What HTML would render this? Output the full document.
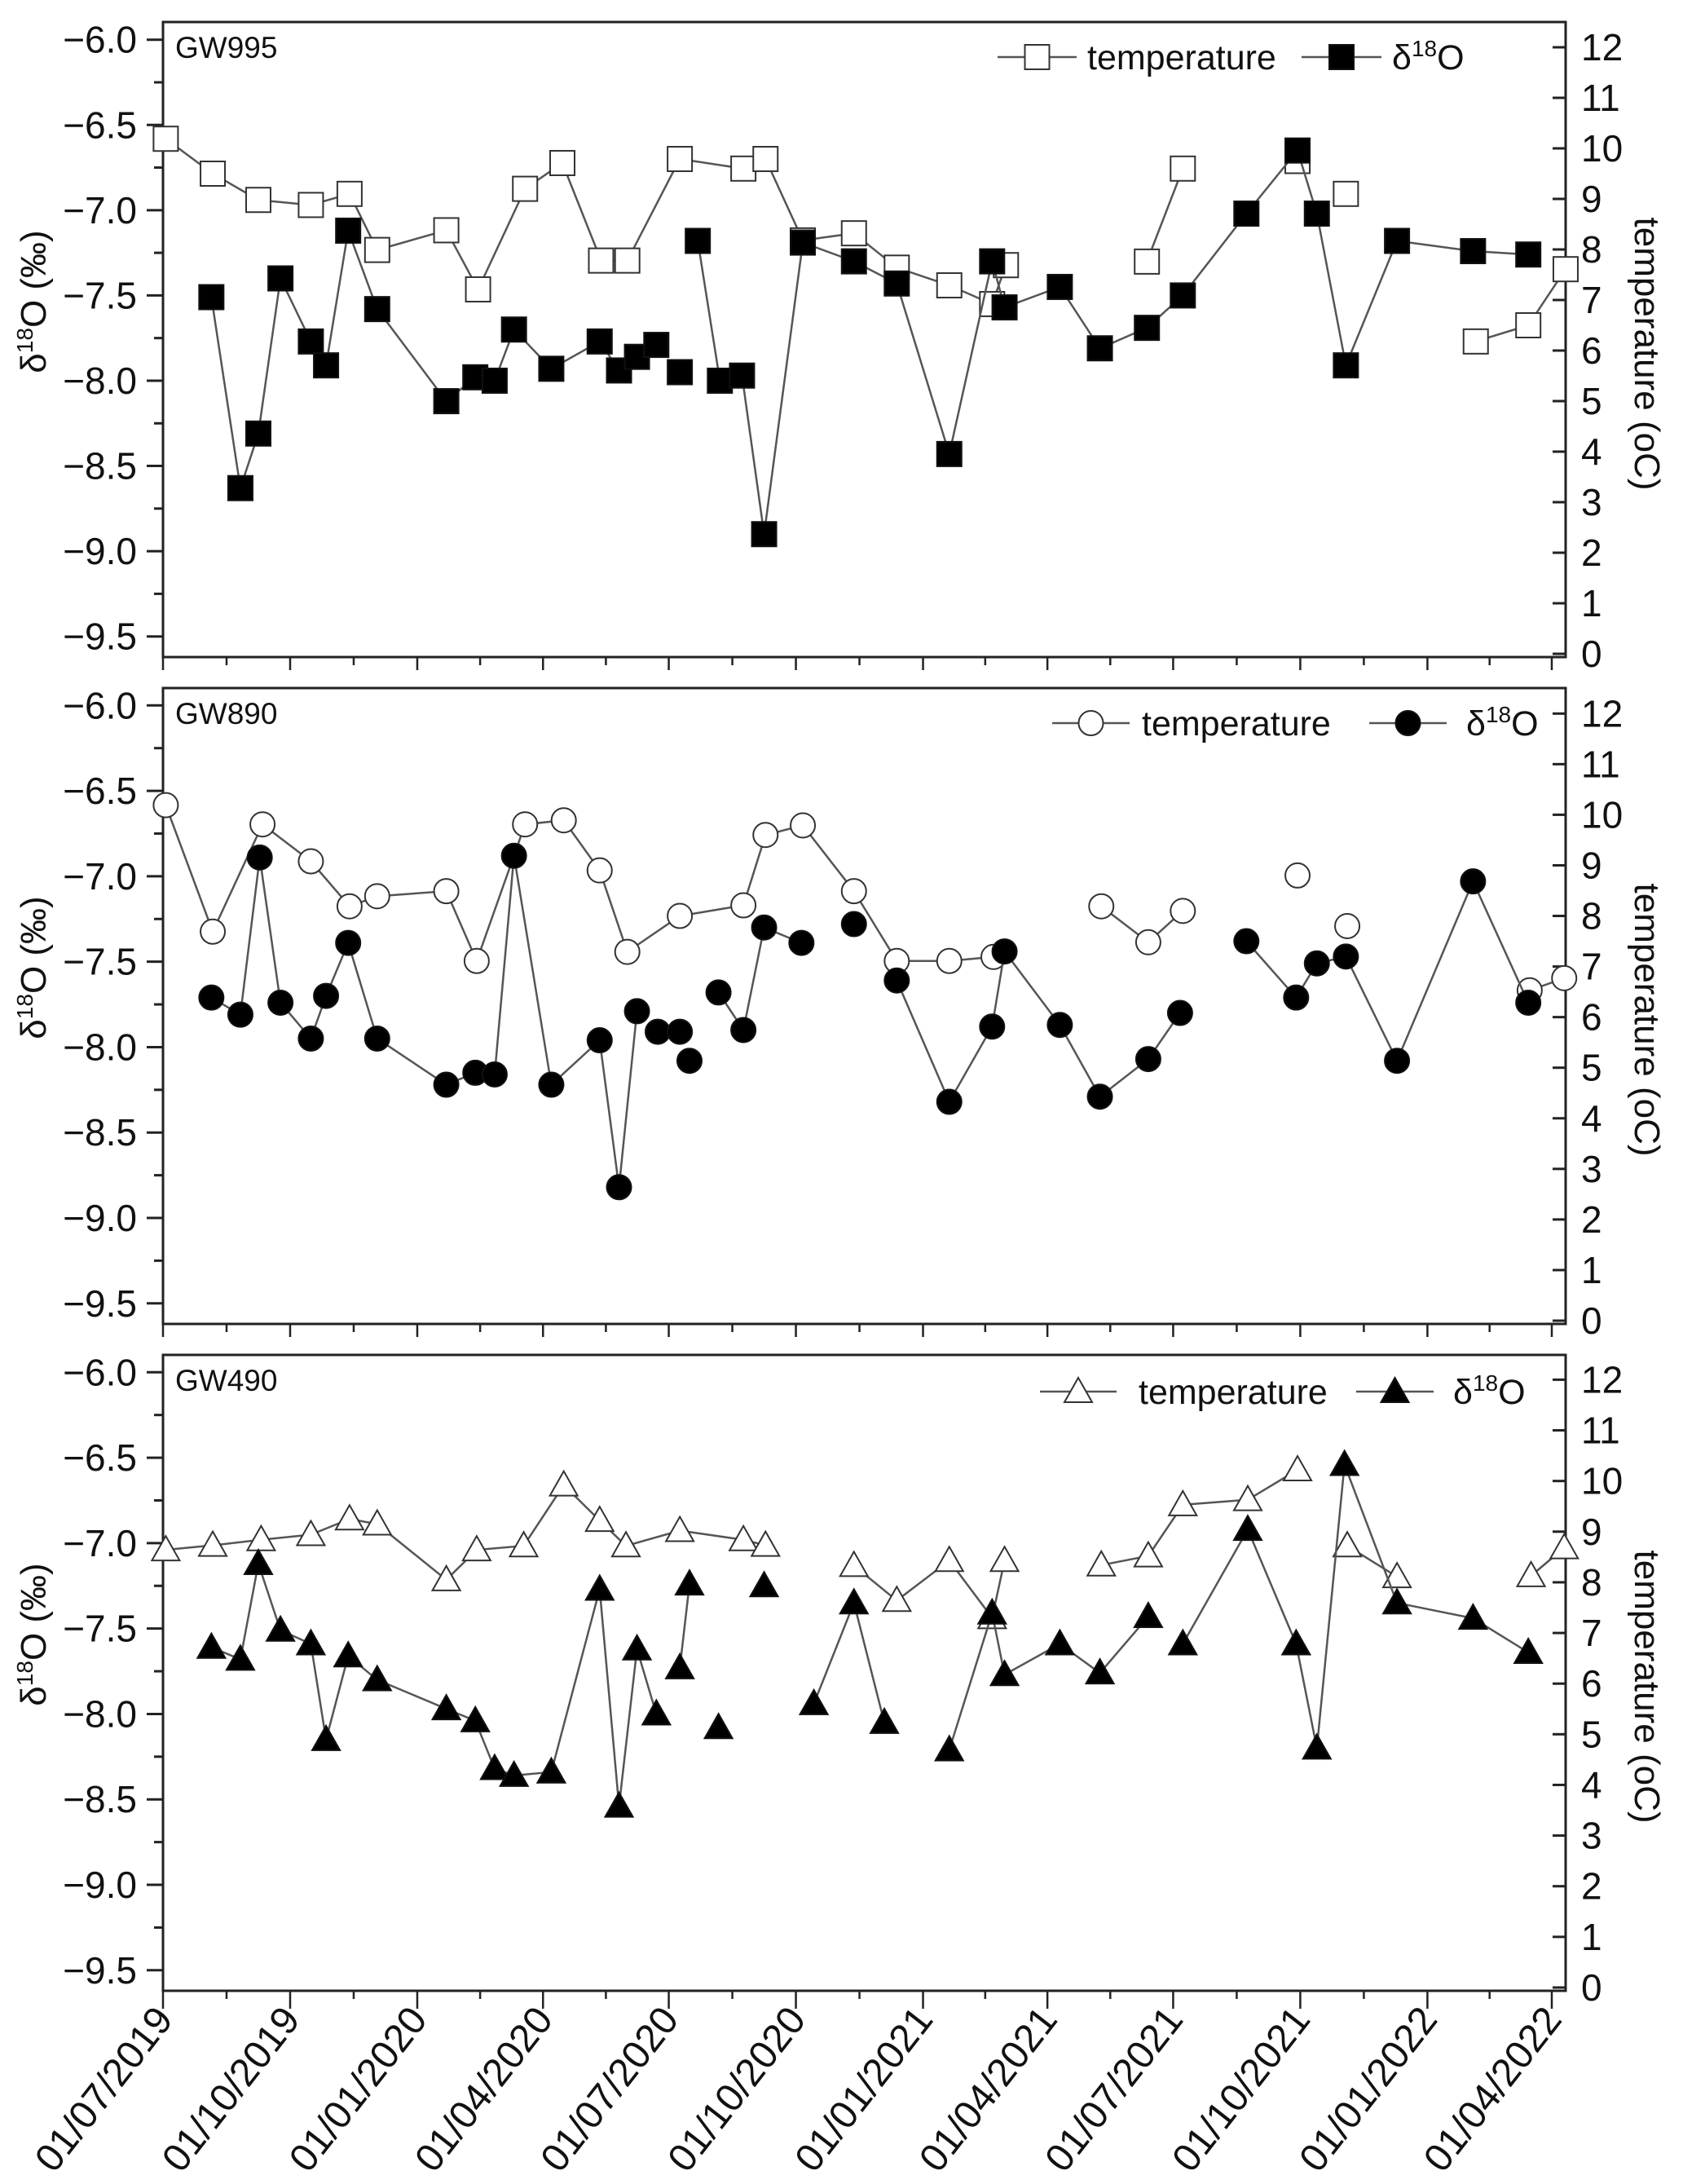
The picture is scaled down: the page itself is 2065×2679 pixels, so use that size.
<!DOCTYPE html>
<html><head><meta charset="utf-8">
<style>
html,body{margin:0;padding:0;background:#fff;}
svg{display:block;font-family:"Liberation Sans",Arial,sans-serif;}
</style></head>
<body>
<svg id="chart" width="2065" height="2679" viewBox="0 0 2065 2679" xmlns="http://www.w3.org/2000/svg"></svg>
<script>
// ---- data (days since 01/07/2019; null = gap in line) ----
const xTickLabels = ["01/07/2019","01/10/2019","01/01/2020","01/04/2020","01/07/2020","01/10/2020","01/01/2021","01/04/2021","01/07/2021","01/10/2021","01/01/2022","01/04/2022"];
const xTickDays = [0,92,184,275,366,458,550,640,731,823,915,1005];
const leftTicks = [-6.0,-6.5,-7.0,-7.5,-8.0,-8.5,-9.0,-9.5];
const rightTicks = [0,1,2,3,4,5,6,7,8,9,10,11,12];
const panelNames = ["GW995","GW890","GW490"];
const markerShapes = ["square","circle","triangle"];

const gw995TempDays = [2,36,69,107,135,155,205,228,262,289,317,336,374,420,436,463,500,531,569,600,610,null,712,738,null,821,null,856,null,950,988,1015];
const gw995Temp = [10.19,9.50,8.98,8.88,9.10,7.99,8.38,7.21,9.20,9.71,7.78,7.78,9.79,9.60,9.79,8.18,8.32,7.64,7.29,6.92,7.69,null,7.76,9.60,null,9.75,null,9.10,null,6.18,6.50,7.61];
const gw995IsoDays = [35,56,69,85,107,118,134,155,205,226,240,254,281,316,330,343,357,null,374,null,387,403,419,435,463,500,531,569,600,609,649,678,712,738,784,821,835,856,893,948,988];
const gw995Iso = [-7.51,-8.63,-8.31,-7.40,-7.77,-7.91,-7.12,-7.58,-8.12,-7.98,-8.00,-7.70,-7.93,-7.77,-7.94,-7.86,-7.79,null,-7.95,null,-7.18,-8.00,-7.97,-8.90,-7.19,-7.30,-7.43,-8.43,-7.30,-7.57,-7.45,-7.81,-7.69,-7.50,-7.02,-6.65,-7.02,-7.91,-7.18,-7.24,-7.26];

const gw890TempDays = [2,36,72,107,135,155,205,227,262,290,316,336,374,420,436,463,500,531,569,601,null,679,713,738,null,821,null,857,null,989,1014];
const gw890Temp = [10.19,7.69,9.81,9.08,8.19,8.39,8.49,7.11,9.81,9.89,8.90,7.29,8.00,8.21,9.60,9.79,8.49,7.11,7.11,7.19,null,8.19,7.48,8.10,null,8.80,null,7.80,null,6.53,6.77];
const gw890IsoDays = [35,56,70,85,107,118,134,155,205,226,240,254,281,316,330,343,null,358,null,374,null,381,null,402,420,435,462,null,500,null,531,569,600,609,649,678,713,736,null,784,820,835,856,893,948,988];
const gw890Iso = [-7.71,-7.81,-6.89,-7.74,-7.95,-7.70,-7.39,-7.95,-8.22,-8.15,-8.16,-6.88,-8.22,-7.96,-8.82,-7.79,null,-7.91,null,-7.91,null,-8.08,null,-7.68,-7.90,-7.30,-7.39,null,-7.28,null,-7.61,-8.32,-7.88,-7.44,-7.87,-8.29,-8.07,-7.80,null,-7.38,-7.71,-7.51,-7.47,-8.08,-7.03,-7.74];

const gw490TempDays = [2,36,71,107,135,155,205,227,261,290,316,335,374,420,436,null,500,531,569,600,609,null,679,713,738,785,821,null,857,893,null,990,1014];
const gw490Temp = [8.64,8.73,8.84,8.94,9.25,9.15,8.05,8.64,8.72,9.92,9.22,8.72,9.02,8.84,8.73,null,8.33,7.64,8.43,7.30,8.43,null,8.34,8.52,9.53,9.63,10.22,null,8.72,8.11,null,8.13,8.68];
const gw490IsoDays = [35,56,69,85,107,118,134,155,205,226,240,254,281,316,330,343,357,null,374,381,null,402,null,435,null,471,500,522,null,569,600,609,649,678,713,null,738,785,820,835,855,893,948,988];
const gw490Iso = [-7.61,-7.68,-7.12,-7.51,-7.59,-8.15,-7.66,-7.80,-7.97,-8.04,-8.32,-8.36,-8.34,-7.27,-8.54,-7.62,-8.00,null,-7.73,-7.24,null,-8.08,null,-7.25,null,-7.94,-7.35,-8.05,null,-8.21,-7.41,-7.77,-7.59,-7.76,-7.43,null,-7.59,-6.92,-7.59,-8.20,-6.54,-7.35,-7.44,-7.64];

const tempDaysAll = [gw995TempDays, gw890TempDays, gw490TempDays];
const tempAll = [gw995Temp, gw890Temp, gw490Temp];
const isoDaysAll = [gw995IsoDays, gw890IsoDays, gw490IsoDays];
const isoAll = [gw995Iso, gw890Iso, gw490Iso];

// ---- layout ----
const NS = "http://www.w3.org/2000/svg";
const svg = document.getElementById("chart");
const X0 = 200, X1 = 1921, DAY_PX = (1904 - 200) / 1005;
const panels = [
  {top:27,  bot:806,  l6:48.7,   l95:780.7,  r12:58,    r0:802},
  {top:844, bot:1624, l6:865.3,  l95:1598.8, r12:875.3, r0:1620},
  {top:1662,bot:2442, l6:1683.3, l95:2416.8, r12:1692.4,r0:2438}
];
function xScale(d){ return X0 + d * DAY_PX; }
function mk(tag, attrs, parent){
  const e = document.createElementNS(NS, tag);
  for (const k in attrs) e.setAttribute(k, attrs[k]);
  (parent || svg).appendChild(e);
  return e;
}
function marker(shape, cx, cy, filled, g){
  const fill = filled ? "#000" : "#fff";
  const st = filled ? "#111" : "#333";
  let e;
  if (shape === "square") e = mk("rect", {x:cx-15, y:cy-15, width:30, height:30, fill:fill, stroke:st, "stroke-width":2}, g);
  else if (shape === "circle") e = mk("circle", {cx:cx, cy:cy, r:15, fill:fill, stroke:st, "stroke-width":2}, g);
  else e = mk("polygon", {points:`${cx},${cy-17} ${cx-17},${cy+13} ${cx+17},${cy+13}`, fill:fill, stroke:st, "stroke-width":2}, g);
  return e;
}
function drawSeries(days, vals, yf, shape, filled, g, name){
  let segs = [], cur = [];
  for (let i=0;i<days.length;i++){
    if (days[i]===null || vals[i]===null){ if(cur.length) segs.push(cur); cur=[]; continue; }
    cur.push([xScale(days[i]), yf(vals[i])]);
  }
  if (cur.length) segs.push(cur);
  segs.forEach(s=>{
    if (s.length>1){
      const pl = mk("polyline", {points:s.map(p=>p.join(",")).join(" "), fill:"none", stroke:"#555", "stroke-width":2.5}, g);
      
      
    }
  });
  segs.forEach(s=>s.forEach(p=>{
    const m = marker(shape, p[0], p[1], filled, g);
    
    
  }));
}

panels.forEach((P, pi)=>{
  const g = mk("g", {});
  
  
  const yL = v => P.l6 + (-6 - v) / 3.5 * (P.l95 - P.l6);
  const yR = t => P.r0 - t / 12 * (P.r0 - P.r12);

  // frame
  const fr = mk("rect", {x:X0, y:P.top, width:X1-X0, height:P.bot-P.top, fill:"none", stroke:"#222", "stroke-width":3}, g);
  
  

  // left ticks
  for (let v=-6.0; v>=-9.51; v-=0.25){
    const major = Math.abs((v*2) - Math.round(v*2)) < 1e-6;
    mk("line", {x1:X0 - (major?20:11), x2:X0, y1:yL(v), y2:yL(v), stroke:"#222", "stroke-width":3}, g);
  }
  leftTicks.forEach(v=>{
    const t = mk("text", {x:168, y:yL(v)+16, "text-anchor":"end", "font-size":46, fill:"#111"}, g);
    t.textContent = "\u2212" + Math.abs(v).toFixed(1);
    
    
  });
  // right ticks (inward)
  rightTicks.forEach(tv=>{
    mk("line", {x1:X1-16, x2:X1, y1:yR(tv), y2:yR(tv), stroke:"#222", "stroke-width":3}, g);
    const t = mk("text", {x:1940, y:yR(tv)+16, "font-size":46, fill:"#111"}, g);
    t.textContent = String(tv);
    
    
  });
  // bottom ticks (outward)
  for (let k=0;k<xTickDays.length;k++){
    const x = xScale(xTickDays[k]);
    mk("line", {x1:x, x2:x, y1:P.bot, y2:P.bot+ (pi===2?22:16), stroke:"#222", "stroke-width":2.5}, g);
    if (k<xTickDays.length-1){
      const xm = xScale((xTickDays[k]+xTickDays[k+1])/2);
      mk("line", {x1:xm, x2:xm, y1:P.bot, y2:P.bot+10, stroke:"#222", "stroke-width":2.5}, g);
    }
  }
  // panel label
  const lab = mk("text", {x:215, y:P.top+44, "font-size":37, fill:"#111"}, g);
  lab.textContent = panelNames[pi];
  
  

  // axis titles
  const ly = P.top + 343;
  const lt = mk("text", {x:0, y:0, transform:`translate(56,${ly}) rotate(-90)`, "text-anchor":"middle", "font-size":44, fill:"#111"}, g);
  lt.innerHTML = 'δ<tspan dy="-16" font-size="28">18</tspan><tspan dy="16">O (‰)</tspan>';
  
  
  const rt = mk("text", {x:0, y:0, transform:`translate(2006,${P.top+407}) rotate(90)`, "text-anchor":"middle", "font-size":44, fill:"#111"}, g);
  rt.textContent = "temperature (oC)";
  
  

  // series
  drawSeries(tempDaysAll[pi], tempAll[pi], yR, markerShapes[pi], false, g, 'temperature');
  drawSeries(isoDaysAll[pi], isoAll[pi], yL, markerShapes[pi], true, g, 'd18o');

  // legend
  const legX = [[1224,1321,1334,1597,1695,1708],[1291,1386,1401,1680,1775,1799],[1276,1370,1397,1664,1759,1783]][pi];
  const legY = P.top + 43 + (pi===2?2:0);
  const lg = mk("g", {}, g);
  
  
  mk("line", {x1:legX[0], x2:legX[1], y1:legY, y2:legY, stroke:"#555", "stroke-width":2.5}, lg);
  marker(markerShapes[pi], (legX[0]+legX[1])/2, legY, false, lg);
  const t1 = mk("text", {x:legX[2], y:legY+15, "font-size":43, fill:"#111"}, lg);
  t1.textContent = "temperature";
  
  
  mk("line", {x1:legX[3], x2:legX[4], y1:legY, y2:legY, stroke:"#555", "stroke-width":2.5}, lg);
  marker(markerShapes[pi], (legX[3]+legX[4])/2, legY, true, lg);
  const t2 = mk("text", {x:legX[5], y:legY+15, "font-size":43, fill:"#111"}, lg);
  t2.innerHTML = 'δ<tspan dy="-16" font-size="28">18</tspan><tspan dy="16">O</tspan>';
  
  
});

// x tick labels (bottom panel)
xTickLabels.forEach((s,k)=>{
  const x = xScale(xTickDays[k]) + 14;
  const t = mk("text", {x:0, y:0, transform:`translate(${x},2478) rotate(-52)`, "text-anchor":"end", "font-size":48, fill:"#111"});
  t.textContent = s;
  
  
});
</script>
</body></html>
